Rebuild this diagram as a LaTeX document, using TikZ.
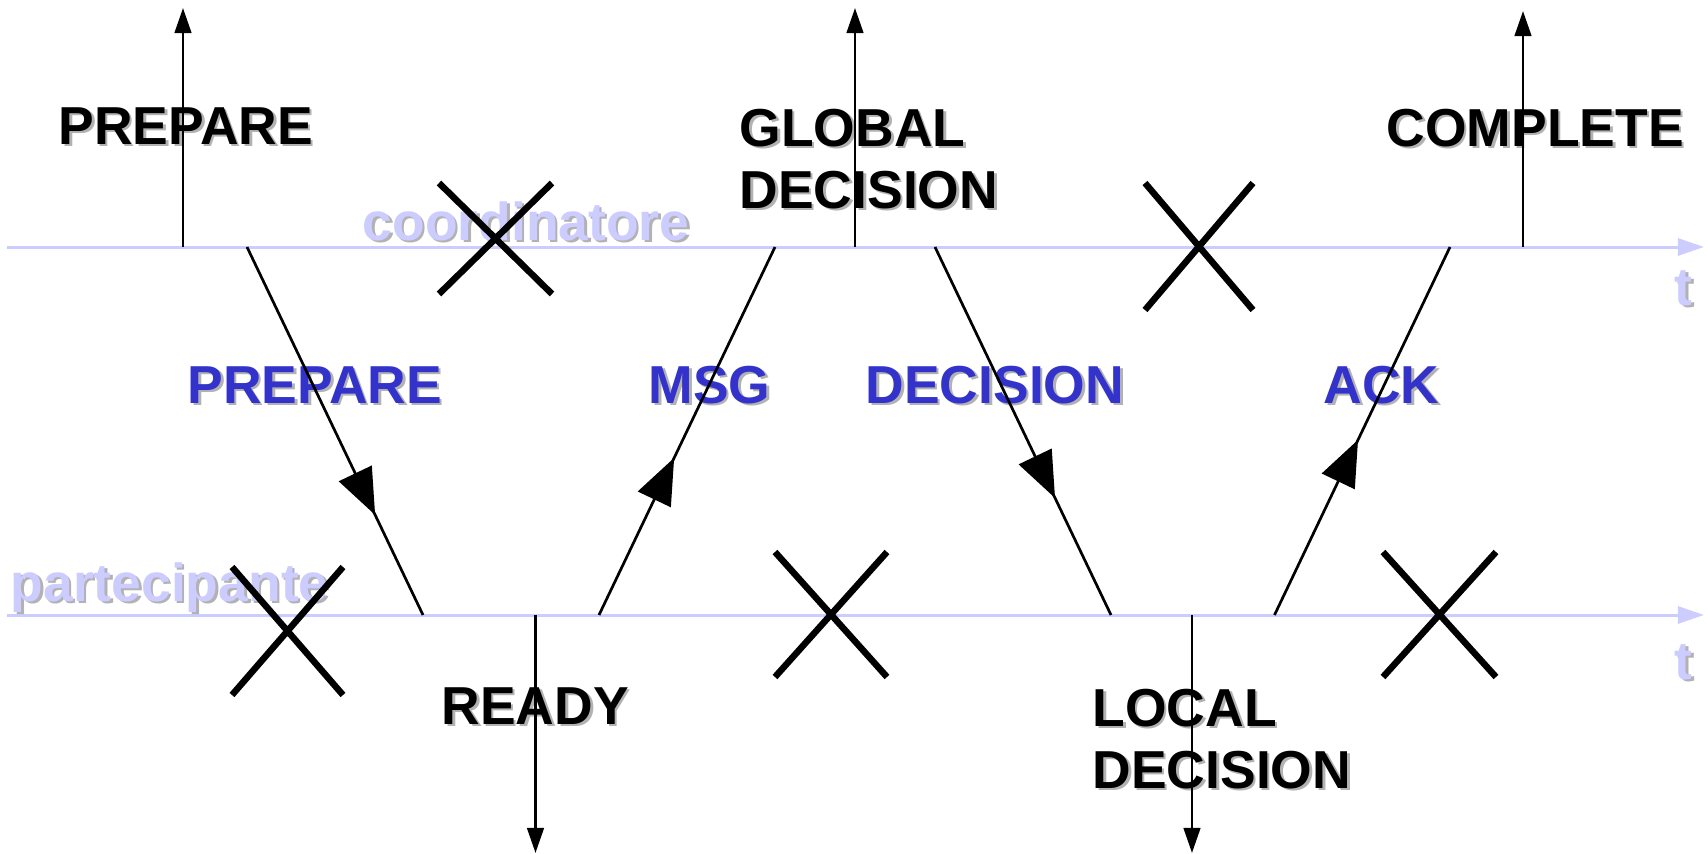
\documentclass[tikz,border=0pt]{standalone}
\usepackage{fontspec}
\setmainfont{Liberation Sans}
\usetikzlibrary{arrows.meta,decorations.markings}

\definecolor{lav}{HTML}{CCCCFF}
\definecolor{msgblue}{HTML}{3333CC}
\definecolor{shade}{HTML}{B2B2B2}

% bold text with a soft grey drop shadow
\newcommand{\shtxt}[2]{\leavevmode\rlap{\kern0.025cm\raisebox{-0.025cm}{\color{shade}#2}}{\color{#1}#2}}

\tikzset{
  lbl/.style={anchor=base west, inner sep=0pt, font=\bfseries\fontsize{15.2}{17.6}\selectfont, align=left},
  timeline/.style={draw=lav, line width=0.03cm, -{Triangle[length=0.26cm,width=0.17cm]}},
  event/.style={draw=black, line width=0.028cm, -{Triangle[length=0.25cm,width=0.165cm]}},
  msgline/.style={draw=black, line width=0.027cm, postaction={decorate},
    decoration={markings, mark=at position #1 with {\arrow{Triangle[length=0.46cm,width=0.36cm]}}}},
  crossmark/.style={draw=black, line width=0.065cm},
}

\begin{document}
\begin{tikzpicture}[x=0.01cm, y=-0.01cm]
\useasboundingbox (0,0) rectangle (1708,854);

% time axes
\coordinate (c0) at (7,247);  \coordinate (c1) at (1704,247);
\coordinate (p0) at (7,615);  \coordinate (p1) at (1704,615);
\draw[timeline] (c0) -- (c1);
\draw[timeline] (p0) -- (p1);

% axis labels
\node[lbl] (coordlbl) at (362,240) {\shtxt{lav}{coordinatore}};
\node[lbl] (partlbl)  at (10,601)  {\shtxt{lav}{partecipante}};
\node[lbl] (tc) at (1674,305) {\shtxt{lav}{t}};
\node[lbl] (tp) at (1674,679) {\shtxt{lav}{t}};

% log records (multi-line nodes sit on their last baseline)
\node[lbl] (logprep)   at (58,144)   {\shtxt{black}{PREPARE}};
\node[lbl] (logglobal) at (739,208)  {\shtxt{black}{GLOBAL}\\\shtxt{black}{DECISION}};
\node[lbl] (logcompl)  at (1386,146) {\shtxt{black}{COMPLETE}};
\node[lbl] (logready)  at (441,724)  {\shtxt{black}{READY}};
\node[lbl] (loglocal)  at (1092,788) {\shtxt{black}{LOCAL}\\\shtxt{black}{DECISION}};

% message names
\node[lbl] (mprep) at (187,403)  {\shtxt{msgblue}{PREPARE}};
\node[lbl] (mmsg)  at (648,403)  {\shtxt{msgblue}{MSG}};
\node[lbl] (mdec)  at (865,403)  {\shtxt{msgblue}{DECISION}};
\node[lbl] (mack)  at (1323,403) {\shtxt{msgblue}{ACK}};

% log writes
\coordinate (e1) at (183,247);   \coordinate (e1t) at (183,8);
\coordinate (e2) at (855,247);   \coordinate (e2t) at (855,8);
\coordinate (e3) at (1523,247);  \coordinate (e3t) at (1523,11);
\coordinate (e4) at (535.5,615); \coordinate (e4t) at (535.5,853);
\coordinate (e5) at (1192,615);  \coordinate (e5t) at (1192,853);
\draw[event] (e1) -- (e1t);
\draw[event] (e2) -- (e2t);
\draw[event] (e3) -- (e3t);
\draw[event] (e4) -- (e4t);
\draw[event] (e5) -- (e5t);

% messages
\coordinate (m1s) at (247,247);    \coordinate (m1e) at (423,615);
\coordinate (m2s) at (599,615);    \coordinate (m2e) at (775,247);
\coordinate (m3s) at (935,247);    \coordinate (m3e) at (1111,615);
\coordinate (m4s) at (1274.5,615); \coordinate (m4e) at (1450,247);
\draw[msgline=0.728] (m1s) -- (m1e);
\draw[msgline=0.427] (m2s) -- (m2e);
\draw[msgline=0.682] (m3s) -- (m3e);
\draw[msgline=0.476] (m4s) -- (m4e);

% timeouts / failure points
\draw[crossmark] (439,183) -- (552,294) (552,183) -- (439,294);
\draw[crossmark] (1145,183) -- (1253,310) (1253,183) -- (1145,310);
\draw[crossmark] (232,567) -- (343,695) (343,567) -- (232,695);
\draw[crossmark] (775,552) -- (887,677) (887,552) -- (775,677);
\draw[crossmark] (1383,552) -- (1496,677) (1496,552) -- (1383,677);
\end{tikzpicture}
\end{document}
